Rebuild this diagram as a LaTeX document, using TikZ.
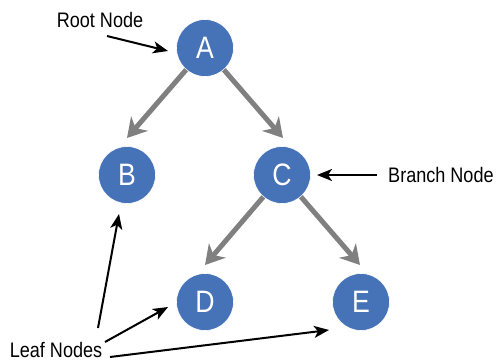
\documentclass[tikz,border=0pt]{standalone}
\usepackage{fontspec}
\setmainfont[FakeStretch=0.86]{Liberation Sans}
\usetikzlibrary{arrows.meta}
\definecolor{nodeblue}{RGB}{70,114,184}
\definecolor{edgegray}{RGB}{128,128,128}
\tikzset{
  treenode/.style={circle, fill=nodeblue, draw=white, line width=0.6pt, minimum size=57pt, inner sep=0pt, text=white, font=\fontsize{31}{31}\selectfont},
  treeedge/.style={draw=edgegray, line width=5pt, -{Stealth[length=19pt, width=22pt, inset=6pt]}},
  callout/.style={draw=black, line width=2pt, -{Stealth[length=15pt, width=12pt, inset=4pt]}},
  lbl/.style={font=\fontsize{21}{21}\selectfont, inner sep=0pt}
}
\begin{document}
\begin{tikzpicture}[x=1pt,y=-1pt]
\useasboundingbox (0,0) rectangle (498,361);
\node[treenode] (A) at (205,48) {A};
\node[treenode] (B) at (127,175) {B};
\node[treenode] (C) at (282,175) {C};
\node[treenode] (D) at (205,302) {D};
\node[treenode] (E) at (361,302) {E};
\coordinate (tB) at (127,138);
\coordinate (tC) at (283,138);
\coordinate (tD) at (205,265);
\coordinate (tE) at (360,265);
\draw[treeedge] (A) -- (tB);
\draw[treeedge] (A) -- (tC);
\draw[treeedge] (C) -- (tD);
\draw[treeedge] (C) -- (tE);
\node[lbl] (root) at (100,20) {Root Node};
\node[lbl, anchor=west] (branch) at (388,175) {Branch Node};
\node[lbl] (leaf) at (56,349.5) {Leaf Nodes};
\coordinate (r0) at (107,36);
\coordinate (r1) at (168,51);
\coordinate (b0) at (377,175);
\coordinate (b1) at (317,175);
\coordinate (l0) at (98,328);
\coordinate (l1) at (119,214);
\coordinate (m0) at (105,342);
\coordinate (m1) at (168,307);
\coordinate (n0) at (110,357);
\coordinate (n1) at (329,330);
\draw[callout] (r0) -- (r1);
\draw[callout] (b0) -- (b1);
\draw[callout] (l0) -- (l1);
\draw[callout] (m0) -- (m1);
\draw[callout] (n0) -- (n1);
\end{tikzpicture}
\end{document}
